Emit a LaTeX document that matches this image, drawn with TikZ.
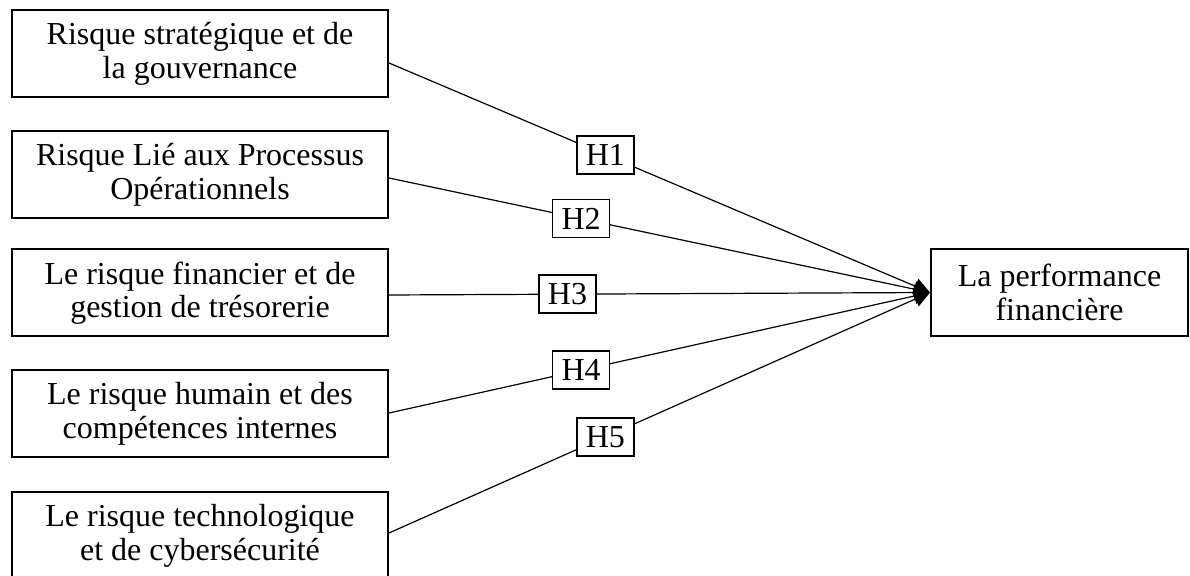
\documentclass[tikz,border=0pt]{standalone}
\usepackage{fontspec}
\setmainfont{Liberation Serif}
\usetikzlibrary{arrows.meta,positioning}

\begin{document}
\begin{tikzpicture}[
    x=0.5pt,y=-0.5pt,
    every node/.style={font=\fontsize{16}{16.8}\selectfont},
    riskbox/.style={draw,line width=1pt,align=center,minimum width=188pt,minimum height=43.5pt,inner sep=0pt},
    hyp/.style={draw,fill=white,line width=0.85pt,minimum height=19pt,inner xsep=4.5pt,inner ysep=0pt},
    flow/.style={-{Triangle[length=8pt,width=8pt]},line width=0.6pt}
  ]
    \clip (0,0) rectangle (1190,576);

    \node[riskbox] (r1) at (200,54) {Risque stratégique et de\\la gouvernance};
    \node[riskbox] (r2) at (200,174.5) {Risque Lié aux Processus\\Opérationnels};
    \node[riskbox] (r3) at (200,293) {Le risque financier et de\\gestion de trésorerie};
    \node[riskbox] (r4) at (200,414) {Le risque humain et des\\compétences internes};
    \node[riskbox] (r5) at (200,536) {Le risque technologique\\et de cybersécurité};

    \node[riskbox,minimum width=128.5pt] (perf) at (1059.5,292.5) {La performance\\financière};

    \draw[flow] ([yshift=-4.5pt]r1.east) -- (perf.west) node[hyp,pos=0.40] (h1) {H1};
    \draw[flow] ([yshift=-1.75pt]r2.east) -- (perf.west) node[hyp,pos=0.355] (h2) {H2};
    \draw[flow] ([yshift=-1pt]r3.east) -- (perf.west) node[hyp,pos=0.33] (h3) {H3};
    \draw[flow] ([yshift=0.5pt]r4.east) -- (perf.west) node[hyp,pos=0.355] (h4) {H4};
    \draw[flow] ([yshift=1.5pt]r5.east) -- (perf.west) node[hyp,pos=0.40] (h5) {H5};
  \end{tikzpicture}
\end{document}
